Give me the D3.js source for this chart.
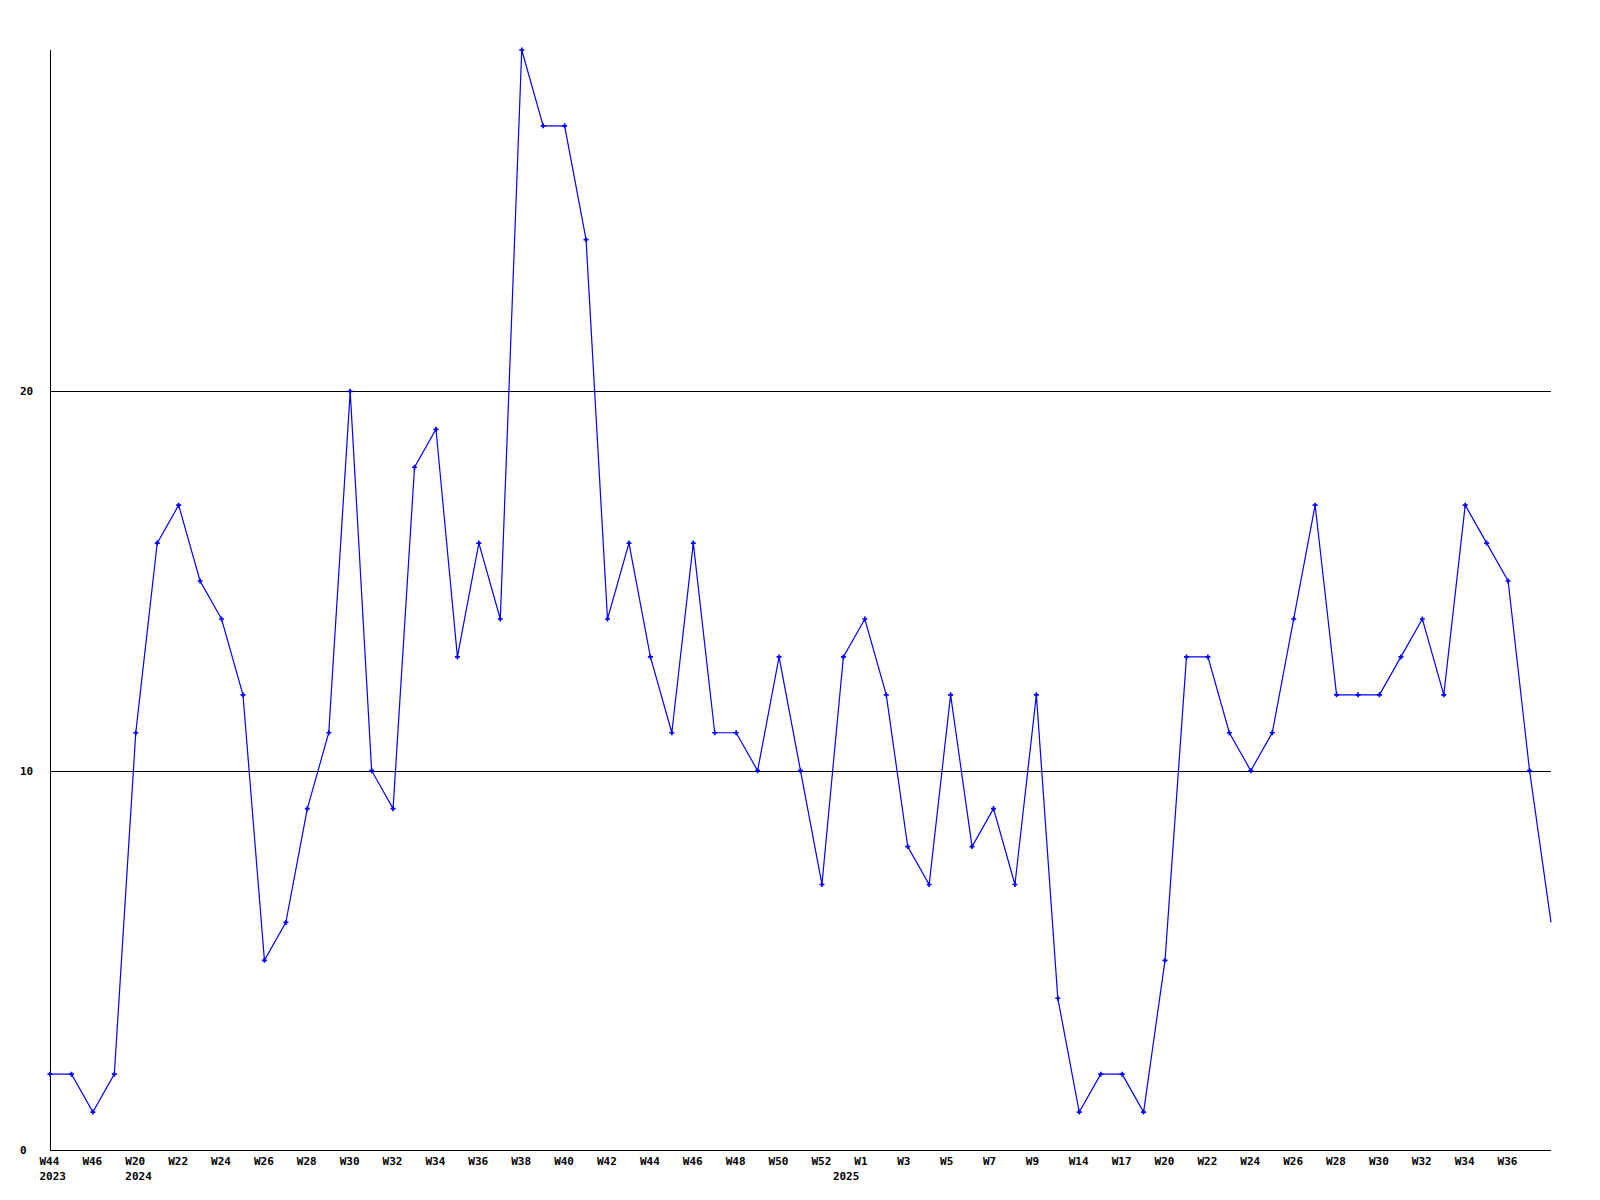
<!DOCTYPE html>
<html>
<head>
<meta charset="utf-8">
<script src="https://cdn.jsdelivr.net/npm/d3@7"></script>
<style>
  html, body { margin: 0; padding: 0; background: #fff; }
  svg { display: block; }
  text { font-family: "DejaVu Sans Mono", "Liberation Mono", monospace; font-weight: bold; font-size: 11px; fill: #000; }
</style>
</head>
<body>
<svg id="chart" width="1600" height="1200"></svg>
<script>
// Weekly values, one entry per data point (sequential, with gaps in calendar weeks)
const values = [
  2, 2, 1, 2, 11, 16, 17, 15, 14, 12,
  5, 6, 9, 11, 20, 10, 9, 18, 19, 13,
  16, 14, 29, 27, 27, 24, 14, 16, 13, 11,
  16, 11, 11, 10, 13, 10, 7, 13, 14, 12,
  8, 7, 12, 8, 9, 7, 12, 4, 1, 2,
  2, 1, 5, 13, 13, 11, 10, 11, 14, 17,
  12, 12, 12, 13, 14, 12, 17, 16, 15, 10,
  6
];

// Week tick labels: point index and text
const weekTickIndex = [0, 2, 4, 6, 8, 10, 12, 14, 16, 18, 20, 22, 24, 26, 28, 30, 32, 34, 36,
                       38, 40, 42, 44, 46, 48, 50, 52, 54, 56, 58, 60, 62, 64, 66, 68];
const weekTickText = ["W44", "W46", "W20", "W22", "W24", "W26", "W28", "W30", "W32", "W34",
                      "W36", "W38", "W40", "W42", "W44", "W46", "W48", "W50", "W52",
                      "W1", "W3", "W5", "W7", "W9", "W14", "W17", "W20", "W22", "W24",
                      "W26", "W28", "W30", "W32", "W34", "W36"];

// Year labels: point index and text
const yearTickIndex = [0, 4, 37];
const yearTickText = ["2023", "2024", "2025"];

// Y axis
const yMax = 29;
const yTicks = [0, 10, 20];

(function () {
  const svg = d3.select("#chart");
  const mLeft = 50, mRight = 1551, mTop = 50, mBottom = 1150;

  const x = d3.scaleLinear().domain([0, values.length - 1]).range([mLeft, mRight]);
  const y = d3.scaleLinear().domain([0, yMax]).range([mBottom, mTop]);

  // Gridlines at y ticks (except 0)
  svg.append("g").selectAll("line")
    .data(yTicks.filter(d => d > 0))
    .join("line")
    .attr("x1", mLeft).attr("x2", mRight)
    .attr("y1", d => Math.round(y(d)) + 0.5)
    .attr("y2", d => Math.round(y(d)) + 0.5)
    .attr("stroke", "#000").attr("stroke-width", 1)
    .attr("shape-rendering", "crispEdges");

  // Axis lines
  svg.append("line")
    .attr("x1", mLeft + 0.5).attr("x2", mLeft + 0.5)
    .attr("y1", mTop).attr("y2", mBottom + 0.5)
    .attr("stroke", "#000").attr("shape-rendering", "crispEdges");
  svg.append("line")
    .attr("x1", mLeft).attr("x2", mRight)
    .attr("y1", mBottom + 0.5).attr("y2", mBottom + 0.5)
    .attr("stroke", "#000").attr("shape-rendering", "crispEdges");

  // Y tick labels
  svg.append("g").selectAll("text")
    .data(yTicks)
    .join("text")
    .attr("x", 20)
    .attr("y", d => y(d) + 4)
    .text(d => d);

  // Week labels
  svg.append("g").selectAll("text")
    .data(weekTickIndex)
    .join("text")
    .attr("x", d => x(d) - 10.5)
    .attr("y", 1165)
    .text((d, i) => weekTickText[i]);

  // Year labels
  svg.append("g").selectAll("text")
    .data(yearTickIndex)
    .join("text")
    .attr("x", d => x(d) - 10.5)
    .attr("y", 1180)
    .text((d, i) => yearTickText[i]);

  // Data line
  const line = d3.line()
    .x((d, i) => x(i))
    .y(d => y(d));

  svg.append("path")
    .datum(values)
    .attr("d", line)
    .attr("fill", "none")
    .attr("stroke", "#0000ff")
    .attr("stroke-width", 1.2);

  // Markers (last point has no marker in the reference)
  svg.append("g").selectAll("path")
    .data(values.slice(0, values.length - 1))
    .join("path")
    .attr("transform", (d, i) => `translate(${x(i)},${y(d)})`)
    .attr("d", d3.symbol().type(d3.symbolCross).size(14))
    .attr("fill", "#0000ff");
})();
</script>
</body>
</html>
